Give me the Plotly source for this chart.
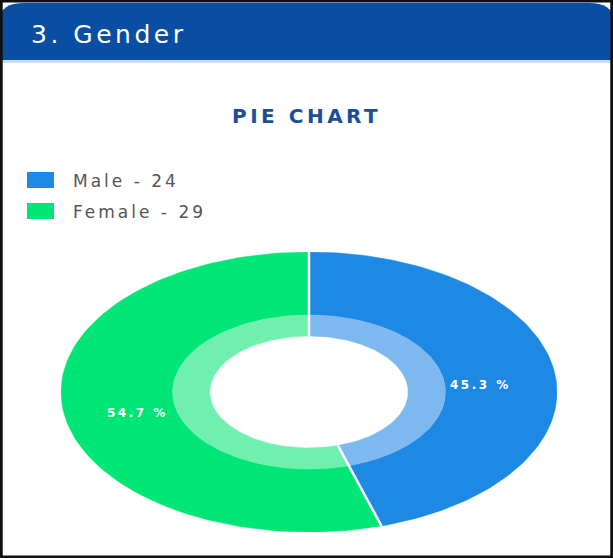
import numpy as np
import plotly.graph_objects as go

# ---- data ----
labels = ["Male", "Female"]
counts = [24, 29]
colors = ["#1e88e5", "#00e676"]
inner_colors = ["#7db9ef", "#6ff0ae"]
header_title = "3. Gender"
chart_title = "PIE CHART"

W, H = 613, 558
total = sum(counts)
shares = [c / total for c in counts]

fig = go.Figure()

R_OUT, R_MID, R_IN = 1.0, 0.55, 0.40
FONT = "DejaVu Sans"


def spaced(txt, px):
    return f'<span style="letter-spacing:{px}px">{txt}</span>'


def wedge(a0, a1, r0, r1, n=120):
    t = np.linspace(a0, a1, n)
    xs = np.concatenate([r1 * np.sin(t), r0 * np.sin(t[::-1])])
    ys = np.concatenate([r1 * np.cos(t), r0 * np.cos(t[::-1])])
    return np.append(xs, xs[0]), np.append(ys, ys[0])


start = 0.0
mids = []
for lab, s, col, icol in zip(labels, shares, colors, inner_colors):
    a0 = start
    a1 = start + s * 2 * np.pi
    for r0, r1, c in [(R_MID, R_OUT, col), (R_IN, R_MID, icol)]:
        xs, ys = wedge(a0, a1, r0, r1)
        fig.add_trace(go.Scatter(x=xs, y=ys, mode="lines", fill="toself",
                                 fillcolor=c, line=dict(color=c, width=0.5),
                                 hoverinfo="skip", showlegend=False))
    mids.append((a0 + a1) / 2)
    start = a1

# white separators
start = 0.0
for s in shares:
    fig.add_trace(go.Scatter(x=[R_IN * np.sin(start), R_OUT * np.sin(start)],
                             y=[R_IN * np.cos(start), R_OUT * np.cos(start)],
                             mode="lines", line=dict(color="white", width=2.5),
                             hoverinfo="skip", showlegend=False))
    start += s * 2 * np.pi

# percentage labels
for m, s in zip(mids, shares):
    fig.add_annotation(x=0.7 * np.sin(m), y=0.7 * np.cos(m) - 0.05, xref="x", yref="y",
                       text="<b>" + spaced(f"{s*100:.1f} %", 2.5) + "</b>",
                       showarrow=False, xanchor="center", yanchor="middle",
                       font=dict(family=FONT, size=12, color="white"))

cx, cy, rx, ry = 309, 392, 248, 140
fig.update_xaxes(domain=[(cx - rx) / W, (cx + rx) / W], range=[-1, 1],
                 visible=False, fixedrange=True)
fig.update_yaxes(domain=[(H - cy - ry) / H, (H - cy + ry) / H], range=[-1, 1],
                 visible=False, fixedrange=True)

shapes = []
# header bar
top = 1 - 3 / H
shapes.append(dict(type="path", xref="paper", yref="paper",
                   path=f"M 0 {1-60/H} L 0 {top-0.03} Q 0 {top} 0.04 {top} "
                        f"L 0.96 {top} Q 1 {top} 1 {top-0.03} L 1 {1-60/H} Z",
                   fillcolor="#0a4ea3", line=dict(width=0), layer="below"))
shapes.append(dict(type="rect", xref="paper", yref="paper", x0=0, x1=1,
                   y0=1 - 63 / H, y1=1 - 60 / H, fillcolor="#c9dcef",
                   line=dict(width=0), layer="below"))
# legend squares
for i, c in enumerate(colors):
    yc = 180 + i * 31
    shapes.append(dict(type="rect", xref="paper", yref="paper",
                       x0=27 / W, x1=54 / W, y0=1 - (yc + 8) / H, y1=1 - (yc - 8) / H,
                       fillcolor=c, line=dict(width=0)))
# outer frame
shapes.append(dict(type="rect", xref="paper", yref="paper", x0=0.002, x1=0.998,
                   y0=0.002, y1=0.998, line=dict(color="#111111", width=3)))

fig.add_annotation(x=29 / W, y=1 - 35 / H, xref="paper", yref="paper",
                   text=spaced(header_title, 3.5), showarrow=False,
                   xanchor="left", yanchor="middle",
                   font=dict(family=FONT, size=25, color="white"))
fig.add_annotation(x=306 / W, y=1 - 116 / H, xref="paper", yref="paper",
                   text="<b>" + spaced(chart_title, 3.5) + "</b>", showarrow=False,
                   xanchor="center", yanchor="middle",
                   font=dict(family=FONT, size=20, color="#1a4f97"))
for i, (lab, cnt) in enumerate(zip(labels, counts)):
    fig.add_annotation(x=71 / W, y=1 - (181 + i * 31) / H, xref="paper", yref="paper",
                       text=spaced(f"{lab} - {cnt}", 3), showarrow=False,
                       xanchor="left", yanchor="middle",
                       font=dict(family=FONT, size=17, color="#555555"))

fig.update_layout(width=W, height=H, margin=dict(l=0, r=0, t=0, b=0),
                  paper_bgcolor="white", plot_bgcolor="white", shapes=shapes,
                  showlegend=False)

fig.write_html("out.html", config={"displayModeBar": False},
               post_script="document.body.style.margin='0';document.body.style.overflow='hidden';")
